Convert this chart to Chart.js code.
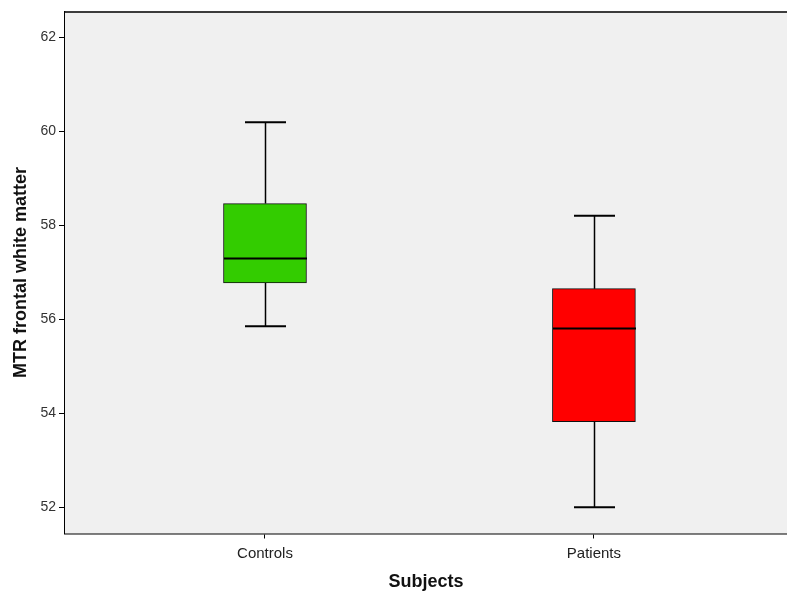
<!DOCTYPE html>
<html>
<head>
<meta charset="utf-8">
<script src="https://cdn.jsdelivr.net/npm/chart.js@4"></script>
<style>
  html, body { margin: 0; padding: 0; background: #fff; overflow: hidden; }
  #wrap { width: 787px; height: 602px; }
</style>
</head>
<body>
<div id="wrap"><canvas id="box"></canvas></div>
<script>
// box plot values
const groups = ["Controls", "Patients"];
const mins = [55.85, 52.0];
const q1s = [56.77, 53.82];
const medians = [57.29, 55.80];
const q3s = [58.46, 56.65];
const maxs = [60.19, 58.20];
const boxColors = ["#33cc00", "#ff0000"];

const boxData = groups.map((g, i) => ({ x: i + 1, y: [q1s[i], q3s[i]] }));

// background + top frame line of the plot area
const frame = {
  id: "frame",
  beforeDatasetsDraw(chart) {
    const a = chart.chartArea, c = chart.ctx;
    c.save();
    c.fillStyle = "#f0f0f0";
    c.fillRect(a.left, a.top, a.right - a.left, a.bottom - a.top);
    c.restore();
  },
  afterDraw(chart) {
    const a = chart.chartArea, c = chart.ctx;
    c.save();
    c.strokeStyle = "#000";
    c.lineWidth = 1.5;
    c.beginPath();
    c.moveTo(a.left, a.top + 0.5);
    c.lineTo(a.right, a.top + 0.5);
    c.stroke();
    c.restore();
  }
};

// whiskers and medians
const whiskers = {
  id: "whiskers",
  afterDatasetsDraw(chart) {
    const c = chart.ctx, xs = chart.scales.x, ys = chart.scales.y;
    const boxW = 83, capW = 41;
    c.save();
    c.strokeStyle = "#000";
    groups.forEach((g, i) => {
      const cx = Math.round(xs.getPixelForValue(i + 1)) + 0.5;
      const yMin = ys.getPixelForValue(mins[i]);
      const yMax = ys.getPixelForValue(maxs[i]);
      const yQ1 = ys.getPixelForValue(q1s[i]);
      const yQ3 = ys.getPixelForValue(q3s[i]);
      const yMed = ys.getPixelForValue(medians[i]);
      c.lineWidth = 1.5;
      c.beginPath();
      c.moveTo(cx, yQ3); c.lineTo(cx, yMax);
      c.moveTo(cx, yQ1); c.lineTo(cx, yMin);
      c.stroke();
      c.lineWidth = 2;
      c.beginPath();
      c.moveTo(cx - capW / 2, yMax); c.lineTo(cx + capW / 2, yMax);
      c.moveTo(cx - capW / 2, yMin); c.lineTo(cx + capW / 2, yMin);
      c.stroke();
      c.beginPath();
      c.moveTo(cx - boxW / 2, yMed); c.lineTo(cx + boxW / 2, yMed);
      c.stroke();
    });
    c.restore();
  }
};

new Chart("box", {
  type: "bar",
  data: {
    datasets: [{
      data: boxData,
      backgroundColor: boxColors,
      borderColor: "#111",
      borderWidth: 1,
      borderSkipped: false,
      barThickness: 83
    }]
  },
  plugins: [frame, whiskers],
  options: {
    responsive: true,
    maintainAspectRatio: false,
    animation: false,
    layout: { padding: { top: 7, right: 0, left: 0, bottom: 0 } },
    plugins: { legend: { display: false }, tooltip: { enabled: false } },
    scales: {
      x: {
        type: "linear",
        offset: false,
        min: 0.392,
        max: 2.587,
        afterBuildTicks: s => { s.ticks = groups.map((g, i) => ({ value: i + 1 })); },
        afterFit: s => { s.height = 68.5; },
        ticks: {
          callback: v => groups[v - 1] || "",
          color: "#222",
          font: { family: "Liberation Sans", size: 15 },
          padding: 6,
          maxRotation: 0
        },
        grid: { offset: false, drawOnChartArea: false, drawTicks: true, tickLength: 5, color: "#000" },
        border: { display: true, color: "#000", width: 1.5 },
        title: {
          display: true,
          text: "Subjects",
          color: "#111",
          font: { family: "Liberation Sans", size: 18, weight: "bold" },
          padding: { top: 0, bottom: 9 }
        }
      },
      y: {
        min: 51.44,
        max: 62.55,
        afterFit: s => { s.width = 65; },
        ticks: {
          stepSize: 2,
          includeBounds: false,
          color: "#333",
          font: { family: "Liberation Sans", size: 14 },
          padding: 3
        },
        grid: { drawOnChartArea: false, drawTicks: true, tickLength: 6, color: "#000" },
        border: { display: true, color: "#000", width: 1.5 },
        title: {
          display: true,
          text: "MTR frontal white matter",
          color: "#111",
          font: { family: "Liberation Sans", size: 18, weight: "bold" },
          padding: { top: 10, bottom: 0 }
        }
      }
    }
  }
});
</script>
</body>
</html>
